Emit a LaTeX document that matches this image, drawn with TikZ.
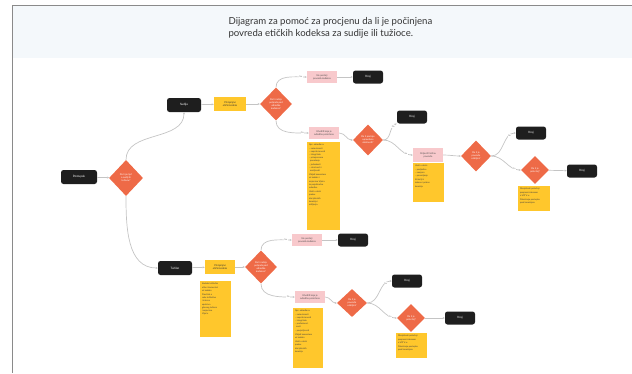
\documentclass[tikz,border=0pt]{standalone}
\usepackage{fontspec}
\setmainfont{Lato}
\usetikzlibrary{positioning, shapes.geometric, arrows.meta}

\definecolor{nodeblack}{HTML}{1E1E1E}
\definecolor{decisionred}{HTML}{EE6A47}
\definecolor{noteyellow}{HTML}{FFC72C}
\definecolor{resultpink}{HTML}{F8C9CC}
\definecolor{linkgray}{HTML}{C4C4C4}
\definecolor{headerblue}{HTML}{F4F8FB}
\definecolor{framegray}{HTML}{8A8A8A}

\newcommand{\notetext}[3]{\parbox[c][#2][t]{#1}{\raggedright\vspace*{2pt}#3}}

\tikzset{
  terminal/.style={rectangle, rounded corners=2.5pt, fill=nodeblack, text=white,
    minimum width=30pt, minimum height=13pt, inner sep=0pt, font=\fontsize{3}{3.5}\selectfont},
  decision/.style={diamond, fill=decisionred, text=white, inner sep=0pt, align=center,
    font=\fontsize{2.4}{2.9}\selectfont},
  result/.style={rectangle, fill=resultpink, text=black!70, minimum width=30pt,
    minimum height=12pt, inner sep=0pt, align=center, font=\fontsize{2.4}{2.9}\selectfont},
  question/.style={rectangle, fill=noteyellow, text=black!80, minimum width=32pt,
    minimum height=14pt, inner sep=0pt, align=center, font=\fontsize{2.5}{3}\selectfont},
  note/.style={rectangle, fill=noteyellow, anchor=north, inner xsep=2pt, inner ysep=0pt,
    text=black!75, font=\fontsize{2.2}{3.2}\selectfont},
  link/.style={draw=linkgray, line width=0.7pt, -{Stealth[length=2.2pt,width=2pt]}},
  answer/.style={font=\fontsize{2.2}{2.5}\selectfont, text=black!50, fill=white, inner sep=0.4pt},
}

\begin{document}
\begin{tikzpicture}[x=1pt, y=-1pt]
    \useasboundingbox (0,0) rectangle (632,373);
    % frame and header
    \fill[headerblue] (12,5) rectangle (632,58);
    \draw[framegray, line width=1pt] (632,5)--(12,5)--(12,373);
    \node[anchor=west, align=left, text=black!80, font=\fontsize{9.6}{12.5}\selectfont](title) at (225,28)
        {Dijagram za pomoć za procjenu da li je počinjena\\povreda etičkih kodeksa za sudije ili tužioce.};

    % start
    \node[terminal, minimum width=36pt, minimum height=14pt](start) at (79,177){Postupak};
    \node[decision, minimum width=34pt, minimum height=36pt](d1) at (126,178){Da li je riječ\\o sudiji ili\\tužiocu?};

    % judge branch
    \node[terminal, minimum width=34pt, minimum height=14pt](judge) at (184,105){Sudija};
    \node[question](q1) at (230,104){Primjenjivi\\etički kodeks};
    \node[decision, minimum width=32pt, minimum height=33pt](d2) at (276,104){Da li radnja\\potpada pod\\odredbe\\kodeksa?};
    \node[result](p1) at (322,77){Ne postoji\\povreda kodeksa};
    \node[terminal](end1) at (368,77){Kraj};
    \node[result](p2) at (324,133){Utvrditi koja je\\odredba prekršena};
    \node[note](n1) at (323.5,142){\notetext{29pt}{88pt}{Npr. odredbe o:\\
        -- nezavisnosti\\ -- nepristrasnosti\\ -- integritetu\\ -- primjerenom\\ \ \ ponašanju\\
        -- jednakosti\\ -- stručnosti i\\ \ \ marljivosti\\[1pt] Vidjeti komentare\\ uz kodeks i\\
        smjernice Vijeća\\ za pojedinačne\\ odredbe.\\[1pt] Uzeti u obzir\\ praksu\\ disciplinskih\\
        komisija i\\ mišljenja.}};
    \node[decision, minimum width=30pt, minimum height=31pt](d3) at (368,140){Da li postoje\\opravdane\\okolnosti?};
    \node[terminal](end2) at (412,117){Kraj};
    \node[result, minimum height=14pt](p3) at (428,155){Ocijeniti težinu\\povrede};
    \node[note](n2) at (428.5,163){\notetext{27pt}{39pt}{Uzeti u obzir:\\ -- posljedice\\ -- namjeru\\
        -- ponavljanje\\[1pt] Kriteriji iz\\ zakona i prakse\\ komisija.}};
    \node[decision, minimum width=30pt, minimum height=31pt](d4) at (476,156){Da li je\\povreda\\ozbiljna?};
    \node[terminal](end3) at (531,133){Kraj};
    \node[decision, minimum width=28pt, minimum height=28pt](d5) at (535,170){Da li je\\prekršaj?};
    \node[terminal](end4) at (582,171){Kraj};
    \node[note](n3) at (534,186){\notetext{28pt}{25pt}{Disciplinski prekršaji\\ propisani zakonom\\
        o VSTV-u.\\[1pt] Pokretanje postupka\\ pred komisijom.}};

    % prosecutor branch
    \node[terminal, minimum width=34pt, minimum height=14pt](prosecutor) at (175,268){Tužilac};
    \node[question, minimum width=30pt](q2) at (220,267){Primjenjivi\\etički kodeks};
    \node[note](n4) at (215.5,281){\notetext{27pt}{56pt}{Kodeks tužilačke\\ etike i komentari\\
        uz kodeks.\\[1pt] Pravilnik o\\ radu tužilaštva\\ i interna\\ uputstva\\ glavnog tužioca\\
        i smjernice\\ Vijeća.}};
    \node[decision, minimum width=32pt, minimum height=33pt](d6) at (261,267){Da li radnja\\potpada pod\\odredbe\\kodeksa?};
    \node[result](p4) at (307,240){Ne postoji\\povreda kodeksa};
    \node[terminal](end5) at (353,240){Kraj};
    \node[result](p5) at (310,297){Utvrditi koja je\\odredba prekršena};
    \node[note](n5) at (308,308){\notetext{26pt}{60pt}{Npr. odredbe o:\\ -- nezavisnosti\\
        -- nepristrasnosti\\ -- integritetu\\ -- profesional-\\ \ \ nosti\\ -- povjerljivosti\\[1pt]
        Vidjeti komentare\\ uz kodeks.\\[1pt] Uzeti u obzir\\ praksu\\ disciplinskih\\ komisija.}};
    \node[decision, minimum width=30pt, minimum height=28pt](d7) at (352,303){Da li je\\povreda\\ozbiljna?};
    \node[terminal](end6) at (407,281){Kraj};
    \node[decision, minimum width=28pt, minimum height=28pt](d8) at (411,318){Da li je\\prekršaj?};
    \node[terminal](end7) at (460,318){Kraj};
    \node[note](n6) at (411.5,333){\notetext{27pt}{25pt}{Disciplinski prekršaji\\ propisani zakonom\\
        o VSTV-u.\\[1pt] Pokretanje postupka\\ pred komisijom.}};

    % connectors
    \draw[link] (start) -- (d1);
    \draw[link] (d1.north) to[out=90, in=-90] (judge.south);
    \draw[link] (d1.south) to[out=-90, in=180] (prosecutor.west);
    \draw[link] (judge) -- (q1);
    \draw[link] (q1) -- (d2);
    \draw[link] (d2.north) to[out=90, in=180] node[answer, pos=0.85]{Ne} (p1.west);
    \draw[link] (d2.south) to[out=-90, in=180] node[answer, pos=0.85]{Da} (p2.west);
    \draw[link] (p1) -- (end1);
    \draw[link] (p2.east) to[out=0, in=180] (d3.west);
    \draw[link] (d3.east) to[out=0, in=200] node[answer, pos=0.8]{Da} (end2.south west);
    \draw[link] (d3.east) to[out=0, in=180] node[answer, pos=0.8]{Ne} (p3.west);
    \draw[link] (p3.east) to[out=0, in=180] (d4.west);
    \draw[link] (d4.east) to[out=0, in=180] node[answer, pos=0.8]{Ne} (end3.west);
    \draw[link] (d4.east) to[out=0, in=180] node[answer, pos=0.8]{Da} (d5.west);
    \draw[link] (d5) -- (end4);
    \draw[link] (prosecutor) -- (q2);
    \draw[link] (q2) -- (d6);
    \draw[link] (d6.north) to[out=90, in=180] node[answer, pos=0.85]{Ne} (p4.west);
    \draw[link] (d6.south) to[out=-90, in=180] node[answer, pos=0.85]{Da} (p5.west);
    \draw[link] (p4) -- (end5);
    \draw[link] (p5.east) to[out=0, in=180] (d7.west);
    \draw[link] (d7.east) to[out=0, in=180] node[answer, pos=0.8]{Ne} (end6.west);
    \draw[link] (d7.east) to[out=0, in=180] node[answer, pos=0.8]{Da} (d8.west);
    \draw[link] (d8) -- (end7);
\end{tikzpicture}
\end{document}
